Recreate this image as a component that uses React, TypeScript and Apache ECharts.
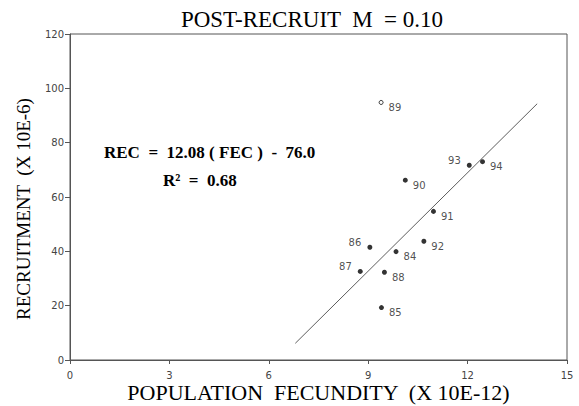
import React, { useEffect, useRef } from "react";
import * as echarts from "echarts";

const years = ["84", "85", "86", "87", "88", "90", "91", "92", "93", "94"];
const fecundity = [9.84, 9.4, 9.05, 8.76, 9.49, 10.12, 10.97, 10.68, 12.05, 12.45];
const recruitment = [39.9, 19.3, 41.5, 32.6, 32.3, 66.2, 54.7, 43.7, 71.7, 73.0];
const outlierYear = ["89"];
const outlierFec = [9.39];
const outlierRec = [94.8];
const leftLabelYears = ["86", "87", "93"];
const slope = 12.08;
const intercept = -76.0;
const fitRange = [6.8, 14.1];
const xTicks = [0, 3, 6, 9, 12, 15];
const yTicks = [0, 20, 40, 60, 80, 100, 120];

export default function App() {
  const ref = useRef<HTMLDivElement>(null);
  useEffect(() => {
    if (!ref.current) return;
    const chart = echarts.init(ref.current, null, { renderer: "svg" });
    const serif = "Liberation Serif";
    const tickFont = { fontFamily: "DejaVu Sans", fontSize: 10, color: "#444" };
    const pts = years.map((y, i) => {
      const left = leftLabelYears.includes(y);
      return {
        value: [fecundity[i], recruitment[i]],
        name: y,
        label: left
          ? { position: "left", offset: [-1, -5] }
          : { position: "right", offset: [0, 5] },
      };
    });
    const outPts = outlierYear.map((y, i) => ({
      value: [outlierFec[i], outlierRec[i]],
      name: y,
    }));
    const fit = fitRange.map((x) => [x, slope * x + intercept]);
    chart.setOption({
      animation: false,
      grid: {
        left: 70,
        right: 12,
        top: 34,
        bottom: 46,
        outerBoundsMode: "none",
        containLabel: false,
        show: true,
        borderColor: "#555",
        borderWidth: 1,
      },
      xAxis: {
        type: "value",
        min: xTicks[0],
        max: xTicks[xTicks.length - 1],
        interval: 3,
        splitLine: { show: false },
        axisLine: { lineStyle: { color: "#555" } },
        axisTick: { length: 4, lineStyle: { color: "#555" } },
        axisLabel: { ...tickFont, margin: 10 },
        name: "POPULATION  FECUNDITY  (X 10E-12)",
        nameLocation: "middle",
        nameMoveOverlap: false,
        nameGap: 21,
        nameTextStyle: { fontFamily: serif, fontSize: 22, color: "#000", lineHeight: 22 },
      },
      yAxis: {
        type: "value",
        min: yTicks[0],
        max: yTicks[yTicks.length - 1],
        interval: 20,
        splitLine: { show: false },
        axisLine: { show: true, lineStyle: { color: "#555" } },
        axisTick: { show: true, length: 5, lineStyle: { color: "#555" } },
        axisLabel: { ...tickFont, margin: 6 },
        name: "RECRUITMENT  (X 10E-6)",
        nameLocation: "middle",
        nameRotate: 90,
        nameGap: 37,
        nameTextStyle: {
          fontFamily: serif,
          fontSize: 19,
          color: "#000",
          padding: [0, 24, 0, 0],
        },
      },
      graphic: [
        {
          type: "text",
          x: 312,
          y: 19.5,
          style: {
            text: "POST-RECRUIT  M  = 0.10",
            font: "23px 'Liberation Serif'",
            fill: "#000",
            textAlign: "center",
            textVerticalAlign: "middle",
          },
        },
        {
          type: "text",
          x: 104,
          y: 152,
          style: {
            text: "REC  =  12.08 ( FEC )  -  76.0",
            font: "bold 17px 'Liberation Serif'",
            fill: "#000",
            textVerticalAlign: "middle",
          },
        },
        {
          type: "text",
          x: 163,
          y: 180,
          style: {
            text: "R²  =  0.68",
            font: "bold 17px 'Liberation Serif'",
            fill: "#000",
            textVerticalAlign: "middle",
          },
        },
      ],
      series: [
        {
          type: "line",
          data: fit,
          symbol: "none",
          lineStyle: { color: "#333", width: 0.8 },
          z: 1,
        },
        {
          type: "scatter",
          data: pts,
          symbol: "circle",
          symbolSize: 5,
          itemStyle: { color: "#000" },
          label: {
            show: true,
            formatter: "{b}",
            fontFamily: "DejaVu Sans",
            fontSize: 10,
            color: "#222",
          },
          z: 3,
        },
        {
          type: "scatter",
          data: outPts,
          symbol: "circle",
          symbolSize: 4,
          itemStyle: { color: "#fff", borderColor: "#000", borderWidth: 1 },
          label: {
            show: true,
            formatter: "{b}",
            position: "right",
            offset: [0, 5],
            fontFamily: "DejaVu Sans",
            fontSize: 10,
            color: "#222",
          },
          z: 3,
        },
      ],
    });
    return () => chart.dispose();
  }, []);
  return <div ref={ref} style={{ width: 579, height: 406, position: "absolute", left: 0, top: 0 }} />;
}
